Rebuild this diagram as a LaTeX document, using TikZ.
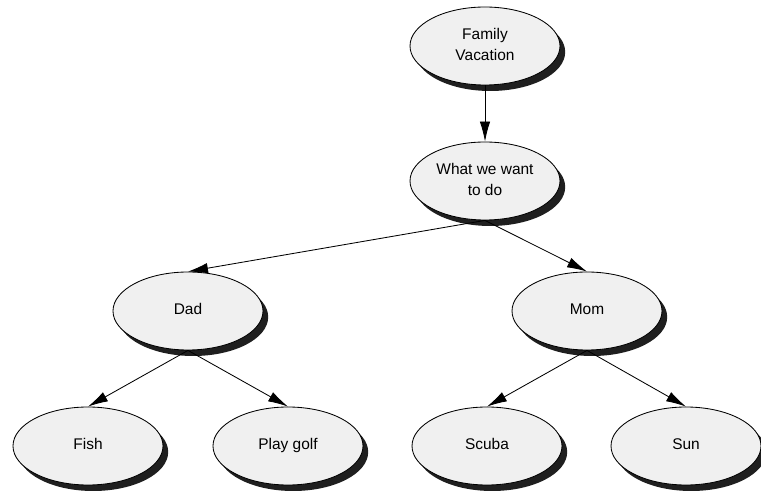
\documentclass[tikz,border=0pt]{standalone}
\usepackage{fontspec}
\setmainfont{Liberation Sans}
\usetikzlibrary{shapes.geometric,shadows,arrows.meta}
\tikzset{
  oval/.style={ellipse, draw, line width=0.6pt, fill=black!6, inner sep=0pt,
    minimum width=3.75cm, minimum height=1.95cm, align=center,
    font=\fontsize{11}{15.5}\selectfont, execute at end node=\vphantom{g},
    drop shadow={shadow xshift=0.13cm, shadow yshift=-0.15cm, fill=black!88, opacity=1}},
}
\begin{document}
\begin{tikzpicture}[>={Latex[length=5mm,width=2.6mm]}, line width=0.6pt]
        \useasboundingbox (0,0) rectangle (19.025,12.3);
        \node [oval] (fam) at (12.125,11.15) {Family\\Vacation};
        \node [oval] (want) at (12.125,7.775) {What we want\\to do};
        \node [oval] (dad) at (4.7,4.525) {Dad};
        \node [oval] (mom) at (14.675,4.525) {Mom};
        \node [oval] (fish) at (2.2,1.15) {Fish};
        \node [oval] (golf) at (7.2,1.15) {Play golf};
        \node [oval] (scuba) at (12.175,1.15) {Scuba};
        \node [oval] (sun) at (17.15,1.15) {Sun};
        \draw [->] (fam) -- (want);
        \draw [->] (want.south) -- (dad.north);
        \draw [->] (want.south) -- (mom.north);
        \draw [->] (dad.south) -- (fish.north);
        \draw [->] (dad.south) -- (golf.north);
        \draw [->] (mom.south) -- (scuba.north);
        \draw [->] (mom.south) -- (sun.north);
    \end{tikzpicture}
\end{document}
